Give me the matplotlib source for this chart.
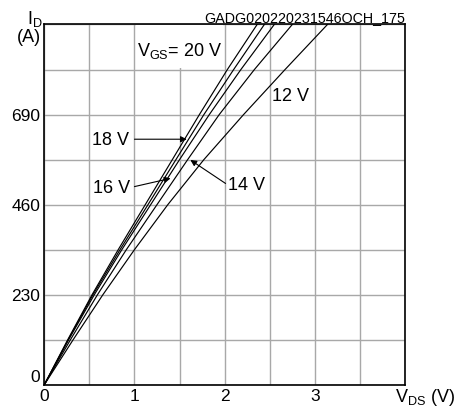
import numpy as np
import matplotlib.pyplot as plt
from matplotlib.patches import Rectangle

plt.rcParams['font.family'] = ['Liberation Sans', 'DejaVu Sans']

# drain current grid (A) and V_DS (V)
i_d = [0, 115, 230, 345, 460, 575, 690, 805, 920]
vds_20 = [0, 0.26, 0.53, 0.82, 1.12, 1.42, 1.72, 2.03, 2.36]
vds_18 = [0, 0.265, 0.54, 0.84, 1.15, 1.46, 1.77, 2.10, 2.44]
vds_16 = [0, 0.27, 0.555, 0.86, 1.18, 1.50, 1.83, 2.18, 2.55]
vds_14 = [0, 0.29, 0.59, 0.91, 1.25, 1.59, 1.94, 2.33, 2.75]
vds_12 = [0, 0.32, 0.65, 1.00, 1.37, 1.77, 2.21, 2.67, 3.14]

x_ticks = [0, 0.5, 1, 1.5, 2, 2.5, 3, 3.5, 4]
x_labels = ['0', '', '1', '', '2', '', '3', '', '']
y_ticks = [0, 115, 230, 345, 460, 575, 690, 805, 920]
y_labels = ['0', '', '230', '', '460', '', '690', '', '']

fig = plt.figure(figsize=(4.55, 4.09), dpi=100)
ax = fig.add_axes([0.0974, 0.0594, 0.7927, 0.8807])

for v in [vds_20, vds_18, vds_16, vds_14, vds_12]:
    ax.plot(v, i_d, color='black', lw=0.85, zorder=2)

ax.set_xlim(0, 4)
ax.set_ylim(0, 920)
ax.set_xticks(x_ticks)
ax.set_xticklabels(x_labels)
ax.set_yticks(y_ticks)
ax.set_yticklabels(y_labels)
ax.tick_params(length=0, labelsize=12.5)
ax.tick_params(axis='x', pad=3)
ax.tick_params(axis='y', pad=3)
ax.yaxis.get_ticklabels()[0].set_va('bottom')
ax.set_axisbelow(True)
ax.grid(True, color='#a8a8a8', lw=1.0)
for s in ax.spines.values():
    s.set_linewidth(1.2)
    s.set_color('black')

# white patch behind the V_GS label
ax.add_patch(Rectangle((1.02, 808), 0.96, 110, facecolor='white',
                       edgecolor='none', zorder=1))
ax.text(1.03, 852, r'$\mathregular{V_{GS}}$= 20 V', fontsize=13,
        ha='left', va='center', zorder=3)
ax.text(2.53, 736, '12 V', fontsize=13, ha='left', va='center')

arw = dict(arrowstyle='-|>', color='black', lw=0.8, mutation_scale=9,
           shrinkA=0, shrinkB=0)
ax.text(0.53, 624, '18 V', fontsize=13, ha='left', va='center')
ax.annotate('', xy=(1.58, 627), xytext=(1.0, 627), arrowprops=arw)
ax.text(0.54, 502, '16 V', fontsize=13, ha='left', va='center')
ax.annotate('', xy=(1.40, 527), xytext=(1.0, 506), arrowprops=arw)
ax.text(2.04, 509, '14 V', fontsize=13, ha='left', va='center')
ax.annotate('', xy=(1.62, 574), xytext=(2.01, 514), arrowprops=arw)

W, H = 455, 409
fig.text(27 / W, 1 - 19 / H, r'$\mathregular{I_D}$', fontsize=13,
         ha='left', va='center')
fig.text(41 / W, 1 - 38 / H, '(A)', fontsize=13, ha='right', va='center')
fig.text(395 / W, 1 - 398 / H, r'$\mathregular{V_{DS}}$ (V)', fontsize=13,
         ha='left', va='center')
fig.text(405 / W, 1 - 18 / H, 'GADG020220231546OCH_175', fontsize=10.3,
         ha='right', va='center')

fig.savefig('out.png', dpi=100)
